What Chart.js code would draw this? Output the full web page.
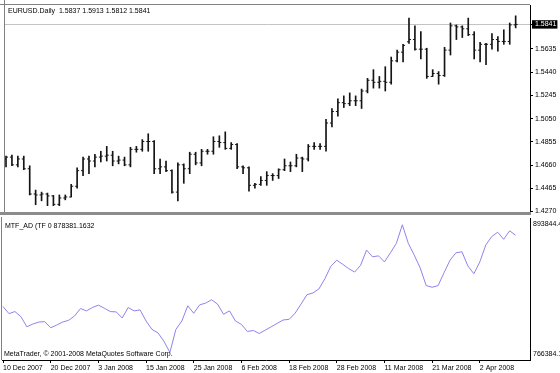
<!DOCTYPE html>
<html><head><meta charset="utf-8">
<script src="https://cdn.jsdelivr.net/npm/chart.js@4.4.1/dist/chart.umd.min.js"></script>
<style>
html,body{margin:0;padding:0;background:#fff;}
#wrap{position:relative;width:560px;height:373px;overflow:hidden;background:#fff;}
canvas{position:absolute;left:0;}
</style></head><body>
<div id="wrap">
<canvas id="top" width="560" height="217" style="top:0"></canvas>
<canvas id="bot" width="560" height="156" style="top:217px"></canvas>
</div>
<script>
// ---------- DATA ----------
const dates = [
'10 Dec 2007','11 Dec 2007','12 Dec 2007','13 Dec 2007','14 Dec 2007','17 Dec 2007','18 Dec 2007','19 Dec 2007','20 Dec 2007','21 Dec 2007','24 Dec 2007','26 Dec 2007','27 Dec 2007','28 Dec 2007','31 Dec 2007',
'2 Jan 2008','3 Jan 2008','4 Jan 2008','7 Jan 2008','8 Jan 2008','9 Jan 2008','10 Jan 2008','11 Jan 2008','14 Jan 2008','15 Jan 2008','16 Jan 2008','17 Jan 2008','18 Jan 2008','21 Jan 2008','22 Jan 2008','23 Jan 2008','24 Jan 2008','25 Jan 2008','28 Jan 2008','29 Jan 2008','30 Jan 2008','31 Jan 2008',
'1 Feb 2008','4 Feb 2008','5 Feb 2008','6 Feb 2008','7 Feb 2008','8 Feb 2008','11 Feb 2008','12 Feb 2008','13 Feb 2008','14 Feb 2008','15 Feb 2008','18 Feb 2008','19 Feb 2008','20 Feb 2008','21 Feb 2008','22 Feb 2008','25 Feb 2008','26 Feb 2008','27 Feb 2008','28 Feb 2008','29 Feb 2008',
'3 Mar 2008','4 Mar 2008','5 Mar 2008','6 Mar 2008','7 Mar 2008','10 Mar 2008','11 Mar 2008','12 Mar 2008','13 Mar 2008','14 Mar 2008','17 Mar 2008','18 Mar 2008','19 Mar 2008','20 Mar 2008','21 Mar 2008','24 Mar 2008','25 Mar 2008','26 Mar 2008','27 Mar 2008','28 Mar 2008','31 Mar 2008',
'1 Apr 2008','2 Apr 2008','3 Apr 2008','4 Apr 2008','7 Apr 2008','8 Apr 2008','9 Apr 2008','10 Apr 2008'];

const opens = [
1.4711,1.4727,1.4662,1.4711,1.4629,1.4417,1.4409,1.4417,1.4401,1.4330,
1.4384,1.4392,1.4482,1.4613,1.4711,1.4694,1.4727,1.4735,1.4743,1.4694,
1.4702,1.4662,1.4792,1.4792,1.4858,1.4858,1.4629,1.4645,1.4613,1.4433,
1.4662,1.4629,1.4751,1.4678,1.4776,1.4776,1.4858,1.4849,1.4800,1.4833,
1.4645,1.4637,1.4490,1.4498,1.4531,1.4572,1.4572,1.4621,1.4654,1.4654,
1.4719,1.4711,1.4817,1.4817,1.4817,1.5013,1.5110,1.5184,1.5176,1.5200,
1.5200,1.5282,1.5372,1.5355,1.5363,1.5355,1.5535,1.5608,1.5695,1.5714,
1.5633,1.5633,1.5404,1.5429,1.5412,1.5625,1.5829,1.5820,1.5804,1.5755,
1.5625,1.5674,1.5674,1.5714,1.5698,1.5698,1.5837];
const highs = [
1.4735,1.4743,1.4735,1.4735,1.4654,1.4450,1.4433,1.4425,1.4405,1.4409,
1.4409,1.4498,1.4637,1.4727,1.4735,1.4751,1.4776,1.4817,1.4776,1.4735,
1.4727,1.4809,1.4817,1.4874,1.4923,1.4866,1.4711,1.4694,1.4621,1.4678,
1.4670,1.4768,1.4768,1.4792,1.4792,1.4898,1.4906,1.4939,1.4849,1.4841,
1.4654,1.4645,1.4507,1.4564,1.4605,1.4588,1.4629,1.4711,1.4686,1.4751,
1.4727,1.4833,1.4849,1.4841,1.5045,1.5135,1.5217,1.5241,1.5266,1.5241,
1.5298,1.5388,1.5461,1.5404,1.5486,1.5567,1.5625,1.5674,1.5894,1.5829,
1.5780,1.5641,1.5461,1.5445,1.5649,1.5853,1.5837,1.5829,1.5894,1.5780,
1.5690,1.5682,1.5763,1.5739,1.5796,1.5853,1.5913];
const lows = [
1.4645,1.4654,1.4645,1.4621,1.4409,1.4327,1.4360,1.4319,1.4319,1.4319,
1.4368,1.4392,1.4466,1.4572,1.4588,1.4645,1.4686,1.4694,1.4654,1.4670,
1.4654,1.4645,1.4768,1.4776,1.4776,1.4588,1.4588,1.4605,1.4425,1.4360,
1.4507,1.4588,1.4662,1.4654,1.4751,1.4751,1.4809,1.4792,1.4792,1.4629,
1.4588,1.4441,1.4466,1.4490,1.4490,1.4531,1.4547,1.4613,1.4605,1.4645,
1.4605,1.4694,1.4792,1.4792,1.4776,1.4980,1.5070,1.5143,1.5159,1.5159,
1.5135,1.5266,1.5306,1.5306,1.5282,1.5339,1.5527,1.5527,1.5682,1.5625,
1.5551,1.5388,1.5404,1.5339,1.5404,1.5584,1.5714,1.5731,1.5747,1.5551,
1.5527,1.5502,1.5633,1.5616,1.5674,1.5674,1.5812];
const closes = [
1.4727,1.4662,1.4711,1.4629,1.4417,1.4409,1.4417,1.4401,1.4330,1.4384,
1.4392,1.4482,1.4613,1.4711,1.4694,1.4727,1.4735,1.4743,1.4694,1.4702,
1.4662,1.4792,1.4792,1.4858,1.4858,1.4629,1.4645,1.4613,1.4433,1.4662,
1.4629,1.4751,1.4678,1.4776,1.4776,1.4858,1.4849,1.4800,1.4833,1.4645,
1.4637,1.4490,1.4498,1.4531,1.4572,1.4572,1.4621,1.4654,1.4654,1.4719,
1.4711,1.4817,1.4817,1.4817,1.5013,1.5110,1.5184,1.5176,1.5200,1.5200,
1.5282,1.5372,1.5355,1.5363,1.5355,1.5535,1.5608,1.5665,1.5714,1.5633,
1.5633,1.5404,1.5429,1.5412,1.5625,1.5829,1.5820,1.5804,1.5755,1.5625,
1.5674,1.5674,1.5714,1.5698,1.5698,1.5837,1.5841];

const adValues = [
814406,808038,809858,805310,796214,798639,800458,800762,795304,797730,
800458,801974,805916,812586,810464,813496,815618,812890,809858,809554,
804097,813496,810464,811374,801368,793788,790756,783176,773170,793788,
801368,815012,808342,815922,817438,820470,816528,807432,810464,801368,
798336,791969,792878,790150,793182,796214,799246,802278,802884,808342,
816528,825018,826534,830172,839268,850486,855944,852306,848364,845332,
851396,865040,858976,859886,854428,862614,871104,887780,871104,860492,
848970,833204,831688,833204,844726,855944,862614,863524,850790,843816,
854428,869588,877168,881110,874742,882322,878381.1632];

const priceTicks = [1.4270,1.4465,1.4660,1.4855,1.5050,1.5245,1.5440,1.5635];
const dateTicks = ['10 Dec 2007','20 Dec 2007','3 Jan 2008','15 Jan 2008','25 Jan 2008','6 Feb 2008','18 Feb 2008','28 Feb 2008','11 Mar 2008','21 Mar 2008','2 Apr 2008'];
const adScaleLabels = [893844.4, 766384.1];
const symbolName = 'EURUSD.Daily';
const indicatorName = 'MTF_AD (TF 0';
const copyright = 'MetaTrader, \u00A9 2001-2008 MetaQuotes Software Corp.';

// ---------- STYLE / LAYOUT ----------
const FAMILY = '"Liberation Sans", Arial, sans-serif';
const FS = 7;
const AXIS_W = 30;
const X_MIN = -0.17, X_MAX = 88.42;
const P_MIN = 1.4266, P_MAX = 1.6004;
const BAR_COLOR = '#141414';
const last = closes.length - 1;
const bid = closes[last];
const fmt4 = v => v.toFixed(4);

Chart.defaults.font.family = FAMILY;
Chart.defaults.font.size = FS;
Chart.defaults.color = '#000';

const mtFrame = {
  id: 'mtFrame',
  beforeDraw(chart) {
    const {ctx, width, height} = chart;
    ctx.save(); ctx.fillStyle = '#fff'; ctx.fillRect(0, 0, width, height); ctx.restore();
  },
  afterDraw(chart, args, opts) {
    const {ctx, chartArea: a} = chart;
    ctx.save();
    ctx.strokeStyle = opts.color; ctx.lineWidth = 1;
    ctx.beginPath(); ctx.moveTo(a.left - 0.5, 0); ctx.lineTo(a.left - 0.5, a.bottom); ctx.stroke();
    if (opts.topLine) { ctx.beginPath(); ctx.moveTo(0, a.top - 0.5); ctx.lineTo(a.right, a.top - 0.5); ctx.stroke(); }
    if (opts.band) { ctx.fillStyle = opts.bandColor; ctx.fillRect(0, a.bottom, a.right + 1, opts.band); }
    ctx.fillStyle = '#000'; ctx.font = FS + 'px ' + FAMILY; ctx.textBaseline = 'alphabetic';
    (opts.texts || []).forEach(t => ctx.fillText(t.text, a.left + t.dx, t.fromBottom ? a.bottom - t.dy : a.top + t.dy));
    ctx.restore();
  }
};

const fitY = s => { s.width = AXIS_W; s.paddingTop = 0; s.paddingBottom = 0; };

// ---------- TOP: OHLC ----------
new Chart(document.getElementById('top'), {
  type: 'bar',
  data: {
    datasets: [
      { type: 'bar', data: highs.map((h, i) => ({x: i, y: [lows[i], h]})), backgroundColor: BAR_COLOR, borderWidth: 0, barThickness: 1, grouped: false },
      { type: 'line', data: opens.map((v, i) => ({x: i, y: v})), showLine: false, pointStyle: 'dash', pointRotation: 180, pointRadius: 2, pointBorderWidth: 1, pointBorderColor: BAR_COLOR, pointBackgroundColor: BAR_COLOR },
      { type: 'line', data: closes.map((v, i) => ({x: i, y: v})), showLine: false, pointStyle: 'dash', pointRotation: 0, pointRadius: 2, pointBorderWidth: 1, pointBorderColor: BAR_COLOR, pointBackgroundColor: BAR_COLOR }
    ]
  },
  options: {
    responsive: false, animation: false, devicePixelRatio: 1, events: [],
    layout: { padding: { left: 2, top: 2, right: 0, bottom: 3 } },
    plugins: {
      legend: { display: false }, tooltip: { enabled: false },
      mtFrame: { color: '#808080', topLine: true, band: 3, bandColor: '#8c8c8c',
        texts: [{ text: symbolName + '  ' + [opens[last], highs[last], lows[last], closes[last]].map(fmt4).join(' '), dx: 3, dy: 8 }] }
    },
    scales: {
      x: { type: 'linear', min: X_MIN, max: X_MAX, offset: false, display: false, grid: { offset: false } },
      y: {
        type: 'linear', position: 'right', min: P_MIN, max: P_MAX,
        afterBuildTicks: s => { s.ticks = priceTicks.concat([bid]).map(v => ({value: v})); },
        afterFit: fitY,
        border: { display: true, color: '#000', width: 1 },
        grid: { drawOnChartArea: true, drawTicks: true, tickLength: 3, tickColor: '#000',
          color: c => (c.tick && c.tick.value === bid) ? '#c4c4c4' : 'rgba(0,0,0,0)' },
        ticks: { padding: 2, font: { size: FS }, callback: v => fmt4(v),
          color: c => (c.tick && c.tick.value === bid) ? '#fff' : '#000',
          showLabelBackdrop: c => !!(c.tick && c.tick.value === bid),
          backdropColor: '#000', backdropPadding: { left: 3, right: 1, top: 0, bottom: 0 } }
      }
    }
  },
  plugins: [mtFrame]
});

// ---------- BOTTOM: MTF_AD ----------
new Chart(document.getElementById('bot'), {
  type: 'line',
  data: {
    datasets: [
      { data: adValues.map((v, i) => ({x: i, y: v})), borderColor: '#8f84ec', borderWidth: 1, pointRadius: 0, tension: 0, fill: false }
    ]
  },
  options: {
    responsive: false, animation: false, devicePixelRatio: 1, events: [],
    layout: { padding: { left: 2, top: 1, right: 0, bottom: 0 } },
    plugins: {
      legend: { display: false }, tooltip: { enabled: false },
      mtFrame: { color: '#808080', topLine: false, band: 0,
        texts: [
          { text: indicatorName + ' ' + adValues[last].toFixed(4), dx: 3, dy: 10 },
          { text: copyright, dx: 2, dy: 4.5, fromBottom: true }
        ] }
    },
    scales: {
      x: {
        type: 'linear', min: X_MIN, max: X_MAX, offset: false, position: 'bottom',
        afterBuildTicks: s => { s.ticks = dateTicks.map(d => ({value: dates.indexOf(d)})); },
        afterFit: s => { s.height = 13; s.paddingLeft = 0; s.paddingRight = 0; },
        border: { display: true, color: '#000', width: 1 },
        grid: { drawOnChartArea: false, drawTicks: true, tickLength: 3, tickColor: '#000', offset: false },
        ticks: { align: 'start', padding: 1, autoSkip: false, maxRotation: 0, minRotation: 0, font: { size: FS },
          callback: v => dates[v] }
      },
      y: {
        type: 'linear', position: 'right', min: adScaleLabels[1], max: adScaleLabels[0],
        afterBuildTicks: s => { s.ticks = adScaleLabels.map(v => ({value: v})); },
        afterFit: fitY,
        border: { display: true, color: '#000', width: 1 },
        grid: { drawOnChartArea: false, drawTicks: false },
        ticks: { padding: 3, font: { size: FS, lineHeight: 1.6 },
          callback: v => v === adScaleLabels[0] ? ['', v.toFixed(1)] : [v.toFixed(1), ''] }
      }
    }
  },
  plugins: [mtFrame]
});
</script>
</body></html>
